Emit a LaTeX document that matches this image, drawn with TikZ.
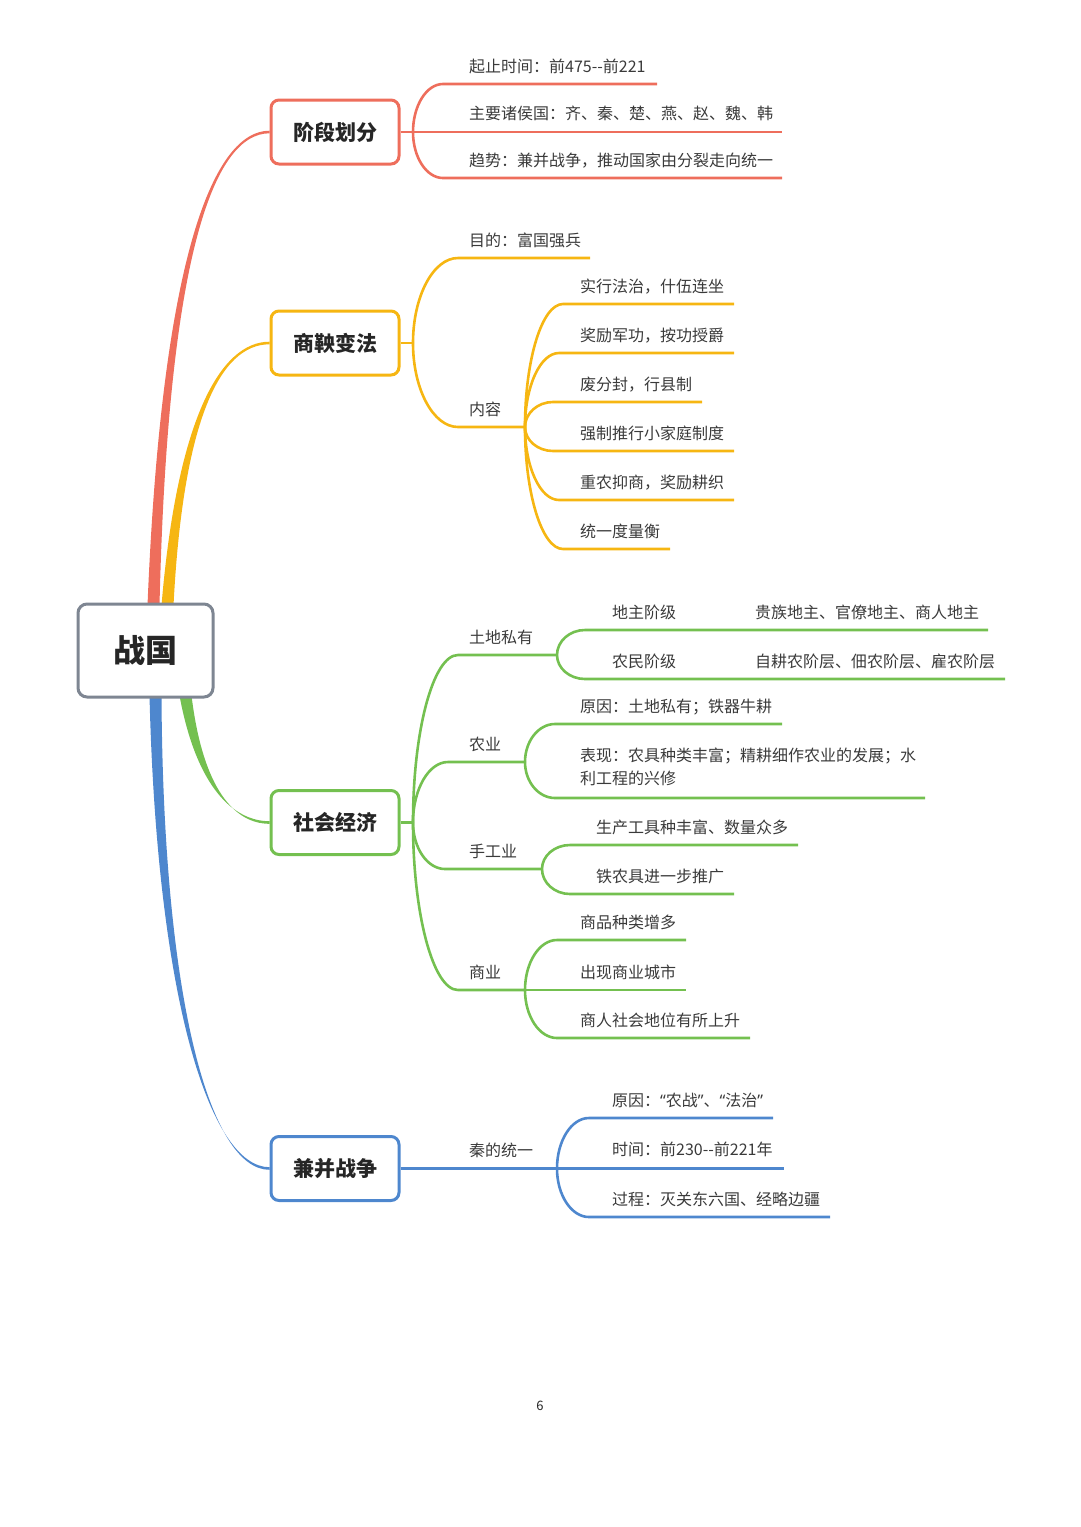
\documentclass[tikz,border=0pt]{standalone}
\usepackage{fontspec}
\setmainfont{Noto Sans CJK SC}
\newfontfamily\latinf{Noto Sans}
\usepackage{tikz}
\usetikzlibrary{calc,backgrounds}

\definecolor{zgray}{RGB}{126,134,146}
\definecolor{zred}{RGB}{238,110,92}
\definecolor{zorange}{RGB}{246,182,18}
\definecolor{zgreen}{RGB}{116,192,80}
\definecolor{zblue}{RGB}{78,135,206}
\definecolor{ztext}{RGB}{58,58,58}

\tikzset{
  topic/.style={draw, rounded corners=8pt, line width=3pt, fill=white, minimum width=128pt,
    minimum height=64pt, inner sep=0pt, font=\bfseries\fontsize{21}{24}\selectfont, text=black!85},
  leaf/.style={anchor=base west, inner sep=0pt, font=\fontsize{16}{23}\selectfont, text=ztext},
  rbr/.style={draw=zred, line width=2.6pt},
  obr/.style={draw=zorange, line width=2.6pt},
  gbr/.style={draw=zgreen, line width=2.6pt},
  bbr/.style={draw=zblue, line width=2.6pt}
}

% tapered main branch: colour, start, control 1, control 2, end
\newcommand{\taperto}[5]{%
  \fill[#1] ($(#2)+(-6,0)$) .. controls ($(#3)+(-3,0)$) and ($(#4)+(0,-1.3)$) .. ($(#5)+(0,-1.3)$)
    -- ($(#5)+(0,1.3)$) .. controls ($(#4)+(0,1.3)$) and ($(#3)+(3,0)$) .. ($(#2)+(6,0)$) -- cycle;}
% rounded fork (quarter ellipse): [width], style, fork, line end
\newcommand{\forkto}[4][30]{\draw[#2] (#3) .. controls ($(#3)!0.55!(#3 |- #4)$)
  and ($(#3 |- #4)+(0.45*#1,0)$) .. ($(#3 |- #4)+(#1,0)$) -- (#4);}

\begin{document}
\begin{tikzpicture}[x=1pt,y=-1pt]
\useasboundingbox (0,0) rectangle (1080,1527);

% centre and topics
\node[draw=zgray, rounded corners=9pt, line width=3pt, fill=white, minimum width=135pt,
  minimum height=93pt, inner sep=0pt, font=\bfseries\fontsize{32}{36}\selectfont, text=black!85] (zg) at (145.5,650.5) {战国};
\node[topic, draw=zred] (jd) at (335,132) {阶段划分};
\node[topic, draw=zorange] (sy) at (335,343) {商鞅变法};
\node[topic, draw=zgreen] (sh) at (335,822.5) {社会经济};
\node[topic, draw=zblue] (jb) at (335,1168.5) {兼并战争};

% 阶段划分
\coordinate (jdf) at (413,132);
\node[leaf] (jd1) at (469,72) {起止时间：前475-{}-前221};
\node[leaf] (jd2) at (469,119) {主要诸侯国：齐、秦、楚、燕、赵、魏、韩};
\node[leaf] (jd3) at (469,166) {趋势：兼并战争，推动国家由分裂走向统一};
\coordinate (jd1e) at (657,84);
\coordinate (jd2e) at (782,132);
\coordinate (jd3e) at (782,178);

% 商鞅变法
\coordinate (syf) at (413,343);
\node[leaf] (sy1) at (469,246) {目的：富国强兵};
\coordinate (sy1e) at (590,258);
\node[leaf] (sy2) at (469,415) {内容};
\coordinate (nrf) at (525,427);
\node[leaf] (nr1) at (580,292) {实行法治，什伍连坐};
\node[leaf] (nr2) at (580,341) {奖励军功，按功授爵};
\node[leaf] (nr3) at (580,390) {废分封，行县制};
\node[leaf] (nr4) at (580,439) {强制推行小家庭制度};
\node[leaf] (nr5) at (580,488) {重农抑商，奖励耕织};
\node[leaf] (nr6) at (580,537) {统一度量衡};
\coordinate (nr1e) at (734,304);
\coordinate (nr2e) at (734,353);
\coordinate (nr3e) at (702,402);
\coordinate (nr4e) at (734,451);
\coordinate (nr5e) at (734,500);
\coordinate (nr6e) at (670,549);

% 社会经济
\coordinate (shf) at (413,822.5);
\node[leaf] (td) at (469,643) {土地私有};
\coordinate (tdf) at (557,655);
\node[leaf] (dz) at (612,618) {地主阶级};
\node[leaf] (dz2) at (755,618) {贵族地主、官僚地主、商人地主};
\coordinate (dze) at (988,630);
\node[leaf] (nm) at (612,667) {农民阶级};
\node[leaf] (nm2) at (755,667) {自耕农阶层、佃农阶层、雇农阶层};
\coordinate (nme) at (1005,679);
\node[leaf] (ny) at (469,750) {农业};
\coordinate (nyf) at (525,762);
\node[leaf] (ny1) at (580,712) {原因：土地私有；铁器牛耕};
\coordinate (ny1e) at (782,724);
\node[leaf, align=left, anchor=north west] (ny2) at (580,748) {表现：农具种类丰富；精耕细作农业的发展；水\\利工程的兴修};
\coordinate (ny2e) at (925,798);
\node[leaf] (sg) at (469,857) {手工业};
\coordinate (sgf) at (542,869);
\node[leaf] (sg1) at (596,833) {生产工具种丰富、数量众多};
\coordinate (sg1e) at (798,845);
\node[leaf] (sg2) at (596,882) {铁农具进一步推广};
\coordinate (sg2e) at (734,894);
\node[leaf] (shy) at (469,978) {商业};
\coordinate (shyf) at (525,990);
\node[leaf] (shy1) at (580,928) {商品种类增多};
\coordinate (shy1e) at (686,940);
\node[leaf] (shy2) at (580,978) {出现商业城市};
\coordinate (shy2e) at (686,990);
\node[leaf] (shy3) at (580,1026) {商人社会地位有所上升};
\coordinate (shy3e) at (750,1038);

% 兼并战争
\node[leaf] (qt) at (469,1156) {秦的统一};
\coordinate (qtf) at (557,1168.5);
\node[leaf] (qt1) at (612,1106) {原因：{\latinf“}农战{\latinf”}、{\latinf“}法治{\latinf”}};
\coordinate (qt1e) at (773,1118);
\node[leaf] (qt2) at (612,1155) {时间：前230-{}-前221年};
\coordinate (qt2e) at (784,1168.5);
\node[leaf] (qt3) at (612,1205) {过程：灭关东六国、经略边疆};
\coordinate (qt3e) at (830,1217);

\node[font=\fontsize{13}{15}\selectfont, text=black!85] (pg) at (540,1406) {6};

\begin{scope}[on background layer]
  % main branches
  \coordinate (zgr) at ($(zg.north)+(8,3)$);
  \coordinate (zgo) at ($(zg.north)+(22,3)$);
  \coordinate (zgg) at ($(zg.south)+(40,-3)$);
  \coordinate (zgb) at ($(zg.south)+(10,-3)$);
  \taperto{zred}{zgr}{165,250}{215,132}{jd.west}
  \taperto{zorange}{zgo}{180,420}{220,343}{sy.west}
  \taperto{zgreen}{zgg}{200,790}{235,822.5}{sh.west}
  \taperto{zblue}{zgb}{160,1000}{210,1168.5}{jb.west}

  % 阶段划分
  \draw[rbr] (jd.east) -- (jd2e);
  \forkto{rbr}{jdf}{jd1e}
  \forkto{rbr}{jdf}{jd3e}

  % 商鞅变法
  \draw[obr] (sy.east) -- (syf);
  \forkto[45]{obr}{syf}{sy1e}
  \forkto[45]{obr}{syf}{nrf}
  \forkto[38]{obr}{nrf}{nr1e}
  \forkto[34]{obr}{nrf}{nr2e}
  \forkto[28]{obr}{nrf}{nr3e}
  \forkto[28]{obr}{nrf}{nr4e}
  \forkto[34]{obr}{nrf}{nr5e}
  \forkto[38]{obr}{nrf}{nr6e}

  % 社会经济
  \draw[gbr] (sh.east) -- (shf);
  \forkto[45]{gbr}{shf}{tdf}
  \forkto[35]{gbr}{shf}{nyf}
  \forkto[32]{gbr}{shf}{sgf}
  \forkto[45]{gbr}{shf}{shyf}
  \forkto[28]{gbr}{tdf}{dze}
  \forkto[28]{gbr}{tdf}{nme}
  \forkto{gbr}{nyf}{ny1e}
  \forkto{gbr}{nyf}{ny2e}
  \forkto[28]{gbr}{sgf}{sg1e}
  \forkto[28]{gbr}{sgf}{sg2e}
  \forkto[32]{gbr}{shyf}{shy1e}
  \draw[gbr] (shyf) -- (shy2e);
  \forkto[32]{gbr}{shyf}{shy3e}

  % 兼并战争
  \draw[bbr] (jb.east) -- (qt2e);
  \forkto[32]{bbr}{qtf}{qt1e}
  \forkto[32]{bbr}{qtf}{qt3e}
\end{scope}
\end{tikzpicture}
\end{document}
